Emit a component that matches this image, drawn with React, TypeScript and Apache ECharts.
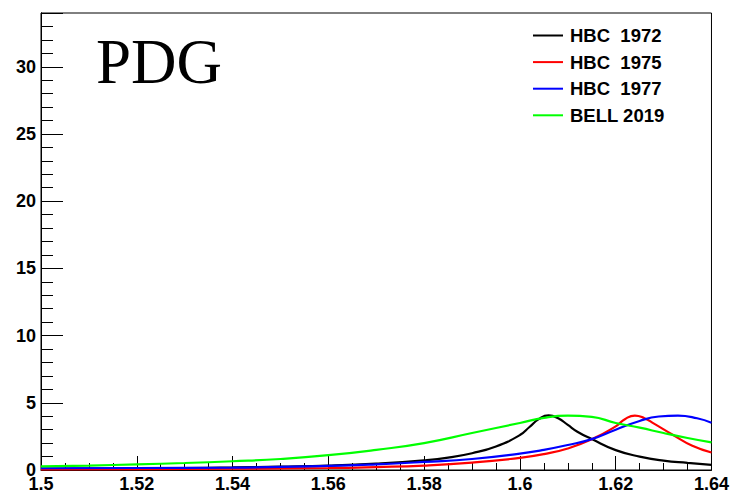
import React, { useEffect, useRef } from "react";
import * as echarts from "echarts";

const seriesNames = ["HBC  1972", "HBC  1975", "HBC  1977", "BELL 2019"];
const seriesColors = ["#000000", "#ff0000", "#0000ff", "#00ff00"];

const blackX = [1.5, 1.51, 1.52, 1.53, 1.54, 1.55, 1.56, 1.57, 1.58, 1.585, 1.59, 1.595, 1.6, 1.602, 1.604, 1.606, 1.608, 1.61, 1.612, 1.615, 1.62, 1.625, 1.63, 1.635, 1.64];
const blackY = [0.08, 0.1, 0.12, 0.15, 0.19, 0.25, 0.33, 0.48, 0.72, 0.92, 1.25, 1.75, 2.6, 3.2, 3.8, 4.06, 3.85, 3.35, 2.85, 2.3, 1.48, 1.0, 0.7, 0.53, 0.38];

const redX = [1.5, 1.52, 1.54, 1.56, 1.57, 1.58, 1.59, 1.6, 1.605, 1.61, 1.615, 1.62, 1.622, 1.624, 1.626, 1.628, 1.632, 1.636, 1.64];
const redY = [0.05, 0.07, 0.1, 0.15, 0.22, 0.33, 0.55, 0.9, 1.18, 1.6, 2.28, 3.25, 3.8, 4.05, 3.85, 3.45, 2.6, 1.8, 1.3];

const blueX = [1.5, 1.52, 1.54, 1.56, 1.57, 1.58, 1.59, 1.6, 1.605, 1.61, 1.615, 1.62, 1.625, 1.629, 1.633, 1.637, 1.64];
const blueY = [0.13, 0.15, 0.18, 0.3, 0.42, 0.6, 0.82, 1.22, 1.5, 1.86, 2.3, 3.0, 3.65, 3.98, 4.05, 3.85, 3.52];

const greenX = [1.5, 1.51, 1.52, 1.53, 1.54, 1.55, 1.56, 1.57, 1.58, 1.59, 1.6, 1.605, 1.61, 1.615, 1.62, 1.625, 1.63, 1.635, 1.64];
const greenY = [0.27, 0.33, 0.42, 0.52, 0.65, 0.82, 1.1, 1.5, 2.0, 2.75, 3.5, 3.88, 4.04, 3.95, 3.5, 3.15, 2.75, 2.38, 2.05];

const seriesX = [blackX, redX, blueX, greenX];
const seriesY = [blackY, redY, blueY, greenY];

const xMin = 1.5;
const xMax = 1.64;
const xMajor = 0.02;
const yMin = 0;
const yMax = 34;
const yMajor = 5;
const yMinor = 1;

const titleText = "PDG";

export default function App() {
  const ref = useRef<HTMLDivElement>(null);

  useEffect(() => {
    if (!ref.current) return;
    const chart = echarts.init(ref.current, null, { renderer: "svg" });
    const labelFont = {
      fontFamily: "Liberation Sans",
      fontWeight: "bold" as const,
      fontSize: 18,
      color: "#000",
    };
    const option: any = {
      animation: false,
      grid: {
        left: 41,
        right: 19,
        top: 13,
        bottom: 23,
        show: true,
        borderColor: "#000",
        borderWidth: 1,
        backgroundColor: "transparent",
      },
      legend: {
        orient: "vertical",
        left: 528,
        top: 21,
        icon: "rect",
        itemWidth: 30,
        itemHeight: 2,
        itemGap: 7.6,
        data: seriesNames,
        textStyle: { ...labelFont, fontSize: 18.5, lineHeight: 18, padding: [0, 0, 0, 2] },
      },
      graphic: [
        {
          type: "text",
          style: {
            text: titleText,
            x: 96,
            y: 62,
            fontSize: 63,
            fontFamily: "Liberation Serif",
            fill: "#000",
            verticalAlign: "middle",
            align: "left",
          },
        },
      ],
      xAxis: [
        {
          type: "value",
          min: xMin,
          max: xMax,
          interval: xMajor,
          axisLine: { show: true, onZero: false, lineStyle: { color: "#000", width: 1 } },
          axisTick: { show: true, inside: true, length: 14, lineStyle: { color: "#000" } },
          minorTick: { show: true, splitNumber: 4, length: 7, lineStyle: { color: "#000" } },
          splitLine: { show: false },
          minorSplitLine: { show: false },
          axisLabel: {
            ...labelFont,
            margin: 5,
            showMinLabel: true,
            showMaxLabel: true,
            formatter: (v: number) => String(parseFloat(v.toFixed(3))),
          },
        },
      ],
      yAxis: [
        {
          type: "value",
          min: yMin,
          max: yMax,
          interval: yMinor,
          position: "left",
          axisLine: { show: true, onZero: false, lineStyle: { color: "#000", width: 1 } },
          axisTick: { show: true, inside: true, length: 12, lineStyle: { color: "#000" } },
          splitLine: { show: false },
          axisLabel: { show: false },
        },
        {
          type: "value",
          min: yMin,
          max: yMax,
          interval: yMajor,
          position: "left",
          axisLine: { show: true, onZero: false, lineStyle: { color: "#000", width: 1 } },
          axisTick: { show: true, inside: true, length: 22, lineStyle: { color: "#000" } },
          splitLine: { show: false },
          axisLabel: {
            ...labelFont,
            margin: 5,
            formatter: (v: number) => (Math.abs(v % yMajor) < 1e-9 ? String(v) : ""),
          },
        },
      ],
      series: seriesNames.map((name, i) => ({
        name,
        type: "line",
        xAxisIndex: 0,
        yAxisIndex: 0,
        data: seriesX[i].map((x, j) => [x, seriesY[i][j]]),
        showSymbol: false,
        symbol: "none",
        smooth: 0.5,
        color: seriesColors[i],
        lineStyle: { color: seriesColors[i], width: 2.2 },
        z: 2 + i,
      })),
    };
    chart.setOption(option);
    return () => chart.dispose();
  }, []);

  return (
    <div
      ref={ref}
      style={{ position: "absolute", left: 0, top: 0, width: 732, height: 493, background: "#fff" }}
    />
  );
}
